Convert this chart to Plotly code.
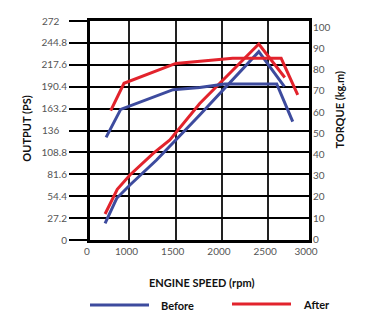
import plotly.graph_objects as go

# Engine speed tick labels (axis drawn from ~573 rpm, labelled "0", to ~2942 rpm, labelled "3000")
x_tickvals = [573, 1000, 1500, 2000, 2500, 2942]
x_ticktext = ["0", "1000", "1500", "2000", "2500", "3000"]

ps_tickvals = [0, 27.2, 54.4, 81.6, 108.8, 136, 163.2, 190.4, 217.6, 244.8, 272]
ps_ticktext = ["0", "27.2", "54.4", "81.6", "108.8", "136\u00a0\u00a0\u00a0", "163.2", "190.4",
               "217.6", "244.8", "272\u00a0\u00a0\u00a0"]
torque_tickvals = [0, 10, 20, 30, 40, 50, 60, 70, 80, 90, 100]

# Output (PS)
before_power_rpm = [736, 862, 1005, 1293, 1501, 1760, 2399, 2676]
before_power_ps = [20.7, 51.8, 68.3, 99.4, 124.2, 155.3, 233.9, 190.4]
after_power_rpm = [736, 868, 1005, 1257, 1437, 1760, 2399, 2680]
after_power_ps = [32.3, 63.0, 80.7, 107.7, 124.2, 169.5, 243.4, 201.8]

# Torque (kg.m)
before_torque_rpm = [747, 905, 1472, 1760, 2030, 2593, 2766]
before_torque_kgm = [48.1, 61.3, 70.6, 71.6, 73.3, 73.3, 55.5]
after_torque_rpm = [797, 941, 1501, 1760, 2116, 2641, 2820]
after_torque_kgm = [60.7, 73.6, 83.0, 83.9, 85.4, 85.4, 68.1]

BLUE = "#3d4b9e"
RED = "#e2232c"
LW = 3

fig = go.Figure()
fig.add_trace(go.Scatter(x=before_power_rpm, y=before_power_ps, mode="lines",
                         line=dict(color=BLUE, width=LW), name="Before", showlegend=False))
fig.add_trace(go.Scatter(x=after_power_rpm, y=after_power_ps, mode="lines",
                         line=dict(color=RED, width=LW), name="After", showlegend=False))
fig.add_trace(go.Scatter(x=before_torque_rpm, y=before_torque_kgm, mode="lines", yaxis="y2",
                         line=dict(color=BLUE, width=LW), name="Before", showlegend=False))
fig.add_trace(go.Scatter(x=after_torque_rpm, y=after_torque_kgm, mode="lines", yaxis="y2",
                         line=dict(color=RED, width=LW), name="After", showlegend=False))

tickfont = dict(family="Lato", size=10, color="#555555")
titlefont = dict(family="Lato", size=11, color="#111111", weight="bold")

fig.update_layout(
    width=380, height=322,
    margin=dict(l=90, r=71, t=21, b=82),
    paper_bgcolor="white", plot_bgcolor="white",
    xaxis=dict(range=[573, 2942], tickvals=x_tickvals, ticktext=x_ticktext,
               showgrid=True, gridcolor="#222222", gridwidth=1.5,
               showline=True, linecolor="black", linewidth=3, mirror=True,
               ticks="", zeroline=False, tickfont=tickfont, ticklabelshift=-3),
    yaxis=dict(range=[0, 272], tickvals=ps_tickvals, ticktext=ps_ticktext,
               showgrid=True, gridcolor="black", gridwidth=2,
               showline=True, linecolor="black", linewidth=3, mirror=True,
               ticks="outside", ticklen=18, tickwidth=2, tickcolor="black",
               zeroline=False, tickfont=tickfont),
    yaxis2=dict(range=[-0.33, 103], tickvals=torque_tickvals, overlaying="y", side="right",
                showgrid=False, showline=False, ticks="", zeroline=False, tickfont=tickfont,
                ticklabelstandoff=3),
    showlegend=False,
)

fig.add_annotation(text="OUTPUT (PS)", xref="paper", yref="paper", x=-0.289, y=0.507,
                   textangle=-90, showarrow=False, font=titlefont, xanchor="center", yanchor="middle")
fig.add_annotation(text="TORQUE (kg.m)", xref="paper", yref="paper", x=1.14, y=0.594,
                   textangle=-90, showarrow=False, font=titlefont, xanchor="center", yanchor="middle")
fig.add_annotation(text="ENGINE SPEED (rpm)", xref="paper", yref="paper", x=0.511, y=-0.192,
                   showarrow=False, font=titlefont, xanchor="center", yanchor="middle")

# Legend drawn manually (long line samples as in the original)
def px_x(p):
    return (p - 90) / 219.0

def px_y(p):
    return (240 - p) / 219.0

for x0, x1, y, color, label, tx in [(90, 149, 305, BLUE, "Before", 159),
                                    (232, 291, 304, RED, "After", 301)]:
    fig.add_shape(type="line", xref="paper", yref="paper", x0=px_x(x0), x1=px_x(x1),
                  y0=px_y(y), y1=px_y(y), line=dict(color=color, width=LW))
    fig.add_annotation(text=label, xref="paper", yref="paper", x=px_x(tx), y=px_y(y),
                       showarrow=False, font=titlefont, xanchor="left", yanchor="middle")

fig.write_html("out.html")
